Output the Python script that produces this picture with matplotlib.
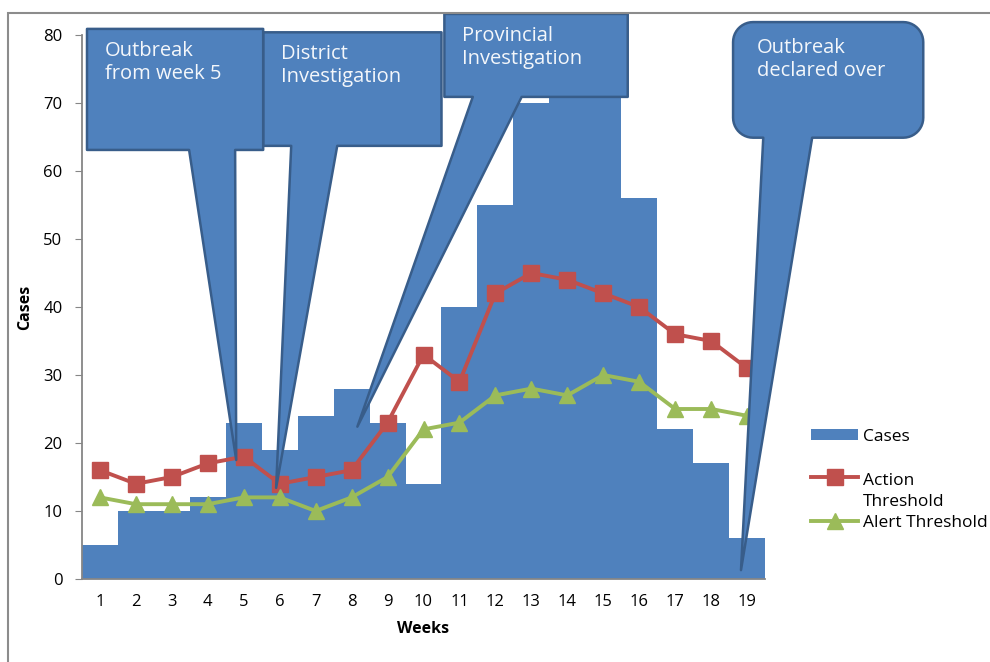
import numpy as np
import matplotlib
matplotlib.use("Agg")
import matplotlib.pyplot as plt
from matplotlib.patches import Polygon, Rectangle

plt.rcParams["font.family"] = ["Open Sans", "DejaVu Sans"]

# --------------------------
# Daten
# --------------------------
weeks = list(range(1, 20))
cases = [5, 10, 10, 12, 23, 19, 24, 28, 23, 14, 40, 55, 70, 76, 73, 56, 22, 17, 6]
action_threshold = [16, 14, 15, 17, 18, 14, 15, 16, 23, 33, 29, 42, 45, 44, 42, 40, 36, 35, 31]
alert_threshold = [12, 11, 11, 11, 12, 12, 10, 12, 15, 22, 23, 27, 28, 27, 30, 29, 25, 25, 24]

# Callouts: Text, Box (x0, x1, y0, y1), Fuss oben (xl, xr), Spitze (x, y), Eckradius px
callouts = [
    ("District\nInvestigation", (5.54, 10.50, 63.7, 80.4), (6.32, 7.60), (5.90, 13.4), 0),
    ("Outbreak\nfrom week 5", (0.64, 5.54, 63.1, 80.9), (3.48, 4.76), (4.79, 17.5), 0),
    ("Provincial\nInvestigation", (10.58, 15.68, 70.9, 83.1), (11.37, 12.73), (8.16, 22.4), 0),
    ("Outbreak\ndeclared over", (18.61, 23.90, 64.9, 81.9), (19.45, 20.81), (18.83, 1.3), 20),
]

BLUE = "#4F81BD"
DARK = "#385D8A"
RED = "#C0504D"
GREEN = "#9BBB59"

fig = plt.figure(figsize=(9.9, 6.62), dpi=100)
ax = fig.add_axes([0.0828, 0.1254, 0.690, 0.8217])

# Rahmen um das Diagramm
fig.patches.append(Rectangle((8 / 990, -0.1), 1.2, 1 - 13 / 662 + 0.1,
                             transform=fig.transFigure, fill=False,
                             edgecolor="#8c8c8c", lw=1.5))

bars = ax.bar(weeks, cases, width=1.0, color=BLUE, label="Cases", zorder=1)
l_action, = ax.plot(weeks, action_threshold, color=RED, lw=2.8, marker="s", ms=11,
                    label="Action\nThreshold", zorder=3)
l_alert, = ax.plot(weeks, alert_threshold, color=GREEN, lw=2.8, marker="^", ms=11,
                   label="Alert Threshold", zorder=3)

ax.set_xlim(0.5, 19.5)
ax.set_ylim(0, 80)
ax.set_xticks(weeks)
ax.set_yticks(range(0, 81, 10))
ax.tick_params(axis="x", length=0, pad=11, labelsize=12)
ax.tick_params(axis="y", length=5, color="#868686", pad=9, labelsize=12)
for s in ["top", "right"]:
    ax.spines[s].set_visible(False)
for s in ["left", "bottom"]:
    ax.spines[s].set_color("#868686")
    ax.spines[s].set_linewidth(1.3)
ax.set_xlabel("Weeks", fontweight="bold", fontsize=11.5, labelpad=8)
ax.set_ylabel("Cases", fontweight="bold", fontsize=11.5, labelpad=7)


# --------------------------
# Callouts zeichnen
# --------------------------
def to_px(pts):
    return ax.transData.transform(pts)


def from_px(pts):
    return ax.transData.inverted().transform(pts)


def callout(text, box, foot, tip, radius):
    x0, x1, y0, y1 = box
    # Umriss in Pixeln aufbauen, damit runde Ecken rund bleiben
    (px0, py0), (px1, py1) = to_px([(x0, y0), (x1, y1)])
    fl, _ = to_px((foot[0], y0))
    fr, _ = to_px((foot[1], y0))
    tx, ty = to_px(tip)
    verts = []

    def corner(cx, cy, a0, a1):
        if radius == 0:
            verts.append((cx, cy))
            return
        ox = cx + (radius if cx == px0 else -radius)
        oy = cy + (radius if cy == py0 else -radius)
        for a in np.linspace(a0, a1, 12):
            verts.append((ox + radius * np.cos(a), oy + radius * np.sin(a)))

    # unten links -> oben links -> oben rechts -> unten rechts (y nach oben)
    corner(px0, py0, 1.5 * np.pi, np.pi)
    corner(px0, py1, np.pi, 0.5 * np.pi)
    corner(px1, py1, 0.5 * np.pi, 0)
    corner(px1, py0, 0, -0.5 * np.pi)
    verts += [(fr, py0), (tx, ty), (fl, py0)]
    poly = Polygon(from_px(verts), closed=True, facecolor=BLUE, edgecolor=DARK,
                   lw=1.8, joinstyle="round", clip_on=False, zorder=5)
    ax.add_patch(poly)
    tpx = px0 + (18 if radius == 0 else 24)
    tpy = py1 - (12 if radius == 0 else 16)
    ax.text(*from_px((tpx, tpy)), text, color="#F4F7FB", fontsize=14.5,
            va="top", ha="left", linespacing=1.2, zorder=6, clip_on=False)


fig.canvas.draw()
for c in callouts:
    callout(*c)

# Legende: "Cases" oben, darunter die beiden Schwellen
leg_cases = ax.legend([bars], ["Cases"], loc="center left",
                      bbox_to_anchor=(1.045, 0.261), frameon=False,
                      fontsize=12.5, handlelength=2.7, handleheight=0.6,
                      handletextpad=0.25)
ax.add_artist(leg_cases)
leg = ax.legend([l_action, l_alert], ["Action\nThreshold", "Alert Threshold"],
                loc="upper left", bbox_to_anchor=(1.045, 0.224),
                frameon=False, fontsize=12.5, handlelength=2.7,
                handletextpad=0.25, labelspacing=0.25)
leg.get_texts()[0].set_linespacing(1.45)
# Symbol fuer "Action Threshold" auf die erste Textzeile setzen
h = leg.legend_handles[0]
h.set_ydata(np.asarray(h.get_ydata()) + 10)

fig.savefig("out.png", dpi=100)
